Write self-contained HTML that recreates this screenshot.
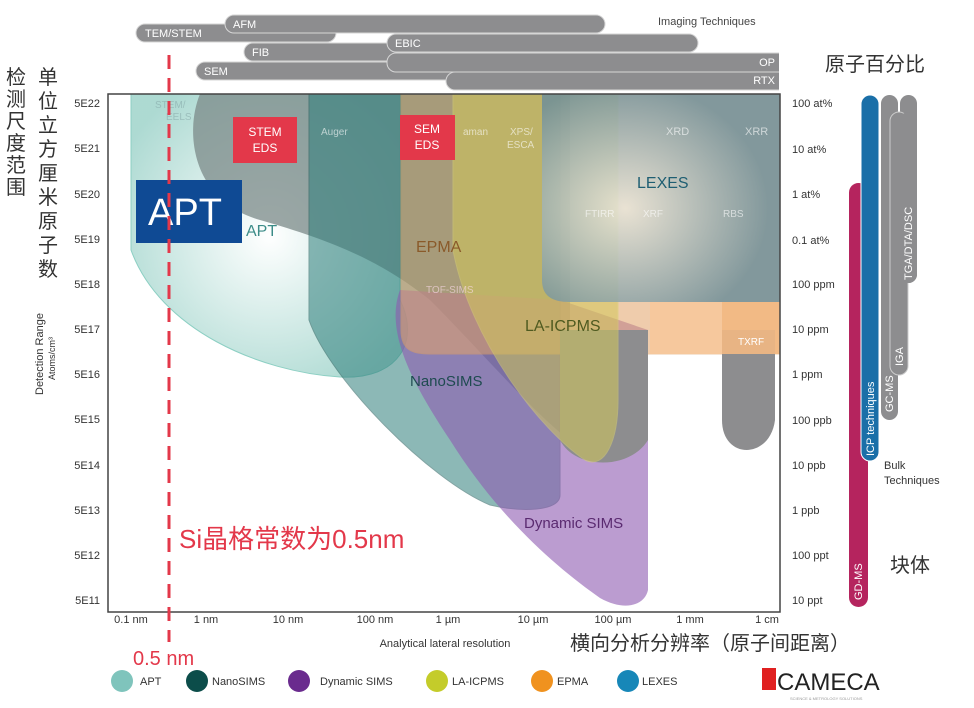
<!DOCTYPE html>
<html><head><meta charset="utf-8"><style>
html,body{margin:0;padding:0;background:#fff}
svg{display:block}
text{font-family:"Liberation Sans","Noto Sans CJK SC",sans-serif}
</style></head><body>
<svg width="974" height="708" viewBox="0 0 974 708" xmlns="http://www.w3.org/2000/svg">
<defs>
<radialGradient id="lex" cx="0.35" cy="0.55" r="0.6"><stop offset="0" stop-color="#e8e6da"/><stop offset="1" stop-color="#6f8f99"/></radialGradient>
<radialGradient id="apt" cx="0.5" cy="0.5" r="0.6"><stop offset="0" stop-color="#ffffff"/><stop offset="1" stop-color="#a9d8d0"/></radialGradient>
<clipPath id="bc"><rect x="0" y="0" width="779" height="100"/></clipPath>
</defs>
<!-- imaging bars -->
<g fill="#8d8d8f" stroke="#d6d6d6" stroke-width="1" clip-path="url(#bc)">
<rect x="136" y="24" width="200" height="18" rx="9"/>
<rect x="225" y="15" width="380" height="18" rx="9"/>
<rect x="244" y="43" width="250" height="18" rx="9"/>
<rect x="196" y="62" width="280" height="18" rx="9"/>
<rect x="387" y="34" width="311" height="18" rx="9"/>
<rect x="387" y="53" width="420" height="19" rx="9"/>
<rect x="446" y="72" width="361" height="18" rx="9"/>
</g>
<g fill="#fff" font-size="11">
<text x="145" y="37">TEM/STEM</text><text x="233" y="28">AFM</text>
<text x="395" y="47">EBIC</text><text x="252" y="56">FIB</text>
<text x="204" y="75">SEM</text><text x="775" y="66" text-anchor="end">OP</text>
<text x="775" y="84" text-anchor="end">RTX</text>
</g>
<text x="658" y="25" font-size="11" fill="#444">Imaging Techniques</text>

<!-- plot -->
<rect x="108" y="94" width="672" height="518" fill="#fff"/>
<clipPath id="pc"><rect x="108" y="94" width="672" height="518"/></clipPath>
<g clip-path="url(#pc)">
<path d="M131,94 L131,250 C160,330 260,372 340,377 C400,380 420,340 400,300 L400,94 Z" fill="url(#apt)" opacity="0.95"/>
<path d="M131,94 L131,250 C160,330 260,372 340,377 C400,380 420,340 400,300 L400,94 Z" fill="none" stroke="#8ccfc3"/>
<path d="M200,94 C185,130 190,200 260,220 C330,240 380,260 430,300 C480,350 540,420 570,440 L570,94 Z" fill="#7b8a88" opacity="0.75"/>
<path d="M309,94 L309,320 C330,380 430,480 490,505 C520,512 560,512 560,495 L560,94 Z" fill="#2f7f7c" opacity="0.55" stroke="#1e5a58"/>
<path d="M400,290 C385,330 410,380 450,440 C500,520 560,570 600,598 C625,612 645,605 648,590 L648,330 L560,300 Z" fill="#8e5ab0" opacity="0.6"/>
<path d="M401,94 L401,330 C401,352 415,354 430,354 L780,354 L780,94 Z" fill="#e3a46a" opacity="0.55" stroke="#e0a060"/>
<path d="M560,330 L560,440 C575,470 630,470 648,440 L648,330 Z" fill="#8d8d8f"/>
<path d="M453,94 L453,250 C470,340 540,430 585,460 C605,470 618,440 618,400 L618,94 Z" fill="#d2c85a" opacity="0.55" stroke="#d8d070"/>
<path d="M542,94 L542,280 C542,296 552,302 570,302 L780,302 L780,94 Z" fill="url(#lex)" opacity="0.85"/>
<rect x="650" y="302" width="130" height="52" fill="#f7c79a" opacity="0.85"/>
<path d="M722,330 L722,420 C722,460 770,460 775,420 L775,330 Z" fill="#8d8d8f"/>
<rect x="722" y="302" width="58" height="52" fill="#f2b883" opacity="0.9"/>
</g>
<rect x="108" y="94" width="672" height="518" fill="none" stroke="#444" stroke-width="1.5"/>
<g fill="#fff" font-size="10" opacity="0.6"><text x="155" y="108" fill="#8aa">STEM/</text><text x="166" y="120" fill="#8aa">EELS</text>
<text x="321" y="135">Auger</text><text x="510" y="135">XPS/</text><text x="507" y="148">ESCA</text>
<text x="666" y="135" font-size="11">XRD</text><text x="745" y="135" font-size="11">XRR</text>
<text x="585" y="217">FTIRR</text><text x="643" y="217">XRF</text><text x="723" y="217">RBS</text>
<text x="426" y="293" fill="#fde">TOF-SIMS</text><text x="463" y="135">aman</text></g>
<text x="637" y="188" font-size="16" fill="#1e5e72">LEXES</text>
<text x="416" y="252" font-size="16" fill="#8a5a2a">EPMA</text>
<text x="525" y="331" font-size="16" fill="#4f5a20">LA-ICPMS</text>
<text x="410" y="386" font-size="15" fill="#1e4a50">NanoSIMS</text>
<text x="524" y="528" font-size="15" fill="#5a2a70">Dynamic SIMS</text>
<text x="246" y="236" font-size="16" fill="#3c8c88">APT</text>
<text x="738" y="345" font-size="10" fill="#fff">TXRF</text>
<rect x="233" y="117" width="64" height="46" fill="#e3384a"/>
<text x="265" y="136" font-size="12" fill="#fff" text-anchor="middle">STEM</text>
<text x="265" y="152" font-size="12" fill="#fff" text-anchor="middle">EDS</text>
<rect x="400" y="115" width="55" height="45" fill="#e3384a"/>
<text x="427" y="133" font-size="12" fill="#fff" text-anchor="middle">SEM</text>
<text x="427" y="149" font-size="12" fill="#fff" text-anchor="middle">EDS</text>
<rect x="136" y="180" width="106" height="63" fill="#0f4a94"/>
<text x="148" y="225" font-size="38" fill="#fff">APT</text>
<line x1="169" y1="55" x2="169" y2="642" stroke="#e3384a" stroke-width="3" stroke-dasharray="14,9"/>
<text x="179" y="548" font-size="26" fill="#e3384a">Si晶格常数为0.5nm</text>
<text x="133" y="665" font-size="20" fill="#e3384a">0.5 nm</text>

<!-- y axis -->
<g font-size="11" fill="#333" text-anchor="end">
<text x="100" y="107">5E22</text><text x="100" y="152">5E21</text><text x="100" y="198">5E20</text><text x="100" y="243">5E19</text><text x="100" y="288">5E18</text><text x="100" y="333">5E17</text><text x="100" y="378">5E16</text><text x="100" y="423">5E15</text><text x="100" y="469">5E14</text><text x="100" y="514">5E13</text><text x="100" y="559">5E12</text><text x="100" y="604">5E11</text>
</g>
<g font-size="20" fill="#333">
<text x="6" y="84">检</text><text x="6" y="106">测</text><text x="6" y="128">尺</text><text x="6" y="150">度</text><text x="6" y="172">范</text><text x="6" y="194">围</text>
<text x="38" y="84">单</text><text x="38" y="108">位</text><text x="38" y="132">立</text><text x="38" y="156">方</text><text x="38" y="180">厘</text><text x="38" y="204">米</text><text x="38" y="228">原</text><text x="38" y="252">子</text><text x="38" y="276">数</text>
</g>
<text transform="translate(43,395) rotate(-90)" font-size="11" fill="#333">Detection Range</text>
<text transform="translate(55,380) rotate(-90)" font-size="9" fill="#333">Atoms/cm³</text>

<!-- right axis -->
<g font-size="11" fill="#333">
<text x="792" y="107">100 at%</text><text x="792" y="153">10 at%</text><text x="792" y="198">1 at%</text><text x="792" y="244">0.1 at%</text><text x="792" y="288">100 ppm</text><text x="792" y="333">10 ppm</text><text x="792" y="378">1 ppm</text><text x="792" y="424">100 ppb</text><text x="792" y="469">10 ppb</text><text x="792" y="514">1 ppb</text><text x="792" y="559">100 ppt</text><text x="792" y="604">10 ppt</text>
</g>
<text x="825" y="71" font-size="20" fill="#333">原子百分比</text>
<rect x="849" y="183" width="19" height="424" rx="9.5" fill="#b5245e"/>
<rect x="861" y="95" width="18" height="366" rx="9" fill="#1a6fa8" stroke="#fff"/>
<rect x="900" y="95" width="17" height="188" rx="8.5" fill="#8d8d8f"/>
<rect x="881" y="95" width="17" height="325" rx="8.5" fill="#8d8d8f"/>
<rect x="890" y="112" width="18" height="263" rx="9" fill="#8d8d8f" stroke="#ccc"/>
<rect x="900" y="112" width="17" height="171" rx="8.5" fill="#8d8d8f"/>
<g fill="#fff" font-size="11">
<text transform="translate(874,456) rotate(-90)">ICP techniques</text>
<text transform="translate(893,412) rotate(-90)">GC-MS</text>
<text transform="translate(903,366) rotate(-90)">IGA</text>
<text transform="translate(912,280) rotate(-90)">TGA/DTA/DSC</text>
<text transform="translate(862,600) rotate(-90)">GD-MS</text>
</g>
<text x="884" y="469" font-size="11" fill="#333">Bulk</text>
<text x="884" y="484" font-size="11" fill="#333">Techniques</text>
<text x="890" y="572" font-size="20" fill="#333">块体</text>

<!-- x axis -->
<g font-size="11" fill="#333" text-anchor="middle">
<text x="131" y="623">0.1 nm</text><text x="206" y="623">1 nm</text><text x="288" y="623">10 nm</text><text x="375" y="623">100 nm</text><text x="448" y="623">1 µm</text><text x="533" y="623">10 µm</text><text x="613" y="623">100 µm</text><text x="690" y="623">1 mm</text><text x="767" y="623">1 cm</text>
</g>
<text x="445" y="647" font-size="11" fill="#333" text-anchor="middle">Analytical lateral resolution</text>
<text x="570" y="650" font-size="20" fill="#333">横向分析分辨率（原子间距离）</text>

<!-- legend -->
<circle cx="122" cy="681" r="11" fill="#7fc4bc"/><text x="140" y="685" font-size="11" fill="#333">APT</text>
<circle cx="197" cy="681" r="11" fill="#0c4d4a"/><text x="212" y="685" font-size="11" fill="#333">NanoSIMS</text>
<circle cx="299" cy="681" r="11" fill="#6a2b8e"/><text x="320" y="685" font-size="11" fill="#333">Dynamic SIMS</text>
<circle cx="437" cy="681" r="11" fill="#c4cc2a"/><text x="452" y="685" font-size="11" fill="#333">LA-ICPMS</text>
<circle cx="542" cy="681" r="11" fill="#f0921f"/><text x="557" y="685" font-size="11" fill="#333">EPMA</text>
<circle cx="628" cy="681" r="11" fill="#1787b8"/><text x="642" y="685" font-size="11" fill="#333">LEXES</text>
<rect x="762" y="668" width="14" height="22" fill="#e02020"/>
<text x="777" y="690" font-size="24" fill="#222">CAMECA</text>
<text x="790" y="700" font-size="4" fill="#999">SCIENCE &amp; METROLOGY SOLUTIONS</text>
</svg>
</body></html>
